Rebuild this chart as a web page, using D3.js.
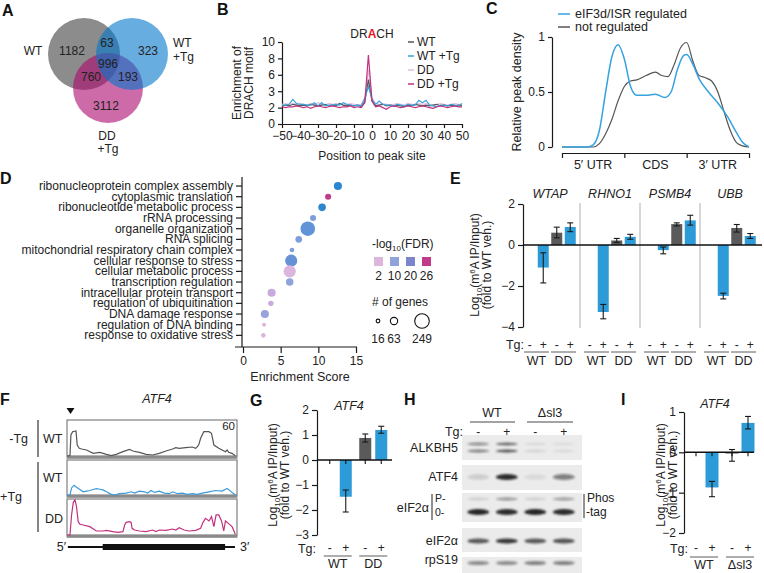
<!DOCTYPE html>
<html><head><meta charset="utf-8">
<script src="https://cdn.jsdelivr.net/npm/d3@7"></script>
<style>
body{margin:0;background:#fff;}
svg{display:block;font-family:"Liberation Sans",Arial,Helvetica,sans-serif;}
.axis path,.axis line{stroke:#1a1a1a;stroke-width:1.2;}
.axis text{font-size:12px;fill:#222;font-family:"Liberation Sans",Arial,sans-serif;}
</style></head><body>
<svg id="fig" width="764" height="573"></svg>
<script>
// ---------------- DATA ----------------
// A: Venn
const vennNames = ["WT", "WT +Tg", "DD +Tg"];
const vennOnly = [1182, 323, 3112];          // WT only, WT+Tg only, DD+Tg only
const vennPairs = [63, 760, 193];            // WT&WT+Tg, WT&DD+Tg, WT+Tg&DD+Tg
const vennAll = 996;

// B: DRACH enrichment
const bPositions = [-50,-48,-46,-44,-42,-40,-38,-36,-34,-32,-30,-28,-26,-24,-22,-20,-18,-16,-14,-12,-10,-8,-6,-4,-2,0,2,4,6,8,10,12,14,16,18,20,22,24,26,28,30,32,34,36,38,40,42,44,46,48,50];
const bWT     = [2.2,2.3,2.2,2.4,2.3,2.2,2.3,2.2,2.4,2.3,2.2,2.3,2.4,2.2,2.3,2.2,2.5,2.3,2.2,2.3,2.2,2.3,2.1,2.7,5.4,2.8,2.2,2.3,2.4,2.2,2.3,2.2,2.3,2.2,2.1,2.3,2.2,2.4,2.3,2.2,2.3,2.2,2.3,2.4,2.2,2.3,2.2,2.3,2.2,2.3,2.2];
const bWTTg   = [2.3,2.3,2.4,3.0,2.5,2.4,2.4,2.3,2.3,2.6,2.2,2.6,2.2,2.3,2.3,2.4,2.3,2.6,2.4,2.3,2.2,2.3,2.2,3.1,4.6,3.0,2.4,2.8,2.4,2.3,2.3,2.2,2.4,2.3,2.2,2.4,2.3,2.3,2.9,2.6,2.9,2.3,2.2,2.1,2.3,2.3,2.2,2.4,2.3,2.2,2.5];
const bDD     = [2.4,2.5,2.4,2.5,2.4,2.5,2.4,2.3,2.5,2.4,2.6,2.4,2.3,2.5,2.4,2.5,2.4,2.3,2.4,2.5,2.4,2.3,2.4,3.2,6.6,3.2,2.5,2.4,2.5,2.4,2.3,2.4,2.5,2.4,2.3,2.5,2.4,2.4,2.5,2.4,2.5,2.4,2.3,2.4,2.5,2.4,2.3,2.4,2.5,2.4,2.4];
const bDDTg   = [2.1,2.0,2.1,2.1,2.2,2.1,2.0,2.1,1.9,2.1,2.2,2.1,2.0,2.1,2.2,2.1,2.0,2.1,2.1,2.2,2.0,2.1,2.0,2.6,8.4,2.8,2.1,2.2,2.0,1.8,2.1,2.2,2.1,2.0,2.1,2.2,2.1,2.0,2.1,2.2,2.1,2.0,1.9,2.1,2.2,2.1,2.0,2.1,2.2,2.1,2.1];
const bYTickValues = [0,2,4,6,8,10];
const bYTickLabels = ["0","2","3","6","8","10"];
const bXTicks = [-50,-40,-30,-20,-10,0,10,20,30,40,50];

// C: metagene density
const cRegions = ["5\u2032 UTR","CDS","3\u2032 UTR"];
const cBlueX = [0,0.4,0.5,0.6,0.7,0.8,0.9,1.0,1.1,1.2,1.35,1.5,1.65,1.75,1.85,1.95,2.0,2.1,2.2,2.35,2.5,2.65,2.8,2.9,3.0];
const cBlueY = [0,0,0.02,0.15,0.5,0.82,0.93,0.8,0.55,0.47,0.47,0.48,0.45,0.5,0.7,0.83,0.84,0.75,0.62,0.5,0.4,0.28,0.13,0.04,0];
const cGrayX = [0,0.5,0.6,0.7,0.8,0.9,1.0,1.1,1.2,1.35,1.5,1.6,1.7,1.8,1.9,2.0,2.1,2.2,2.3,2.4,2.5,2.6,2.7,2.8,2.9,3.0];
const cGrayY = [0,0,0.03,0.12,0.25,0.42,0.55,0.6,0.61,0.65,0.68,0.65,0.64,0.75,0.9,0.95,0.78,0.65,0.63,0.6,0.5,0.32,0.15,0.04,0.01,0];
const cLegend = ["eIF3d/ISR regulated","not regulated"];

// D: GO enrichment
const dTerms = ["ribonucleoprotein complex assembly","cytoplasmic translation","ribonucleotide metabolic process","rRNA processing","organelle organization","RNA splicing","mitochondrial respiratory chain complex","cellular response to stress","cellular metabolic process","transcription regulation","intracellular protein transport","regulation of ubiquitination","DNA damage response","regulation of DNA binding","response to oxidative stress"];
const dScore = [12.6,11.3,10.5,9.3,8.6,7.4,6.5,6.4,6.2,6.2,3.8,3.7,2.9,2.8,2.7];
const dFDR   = [22,26,22,12,16,12,12,17,2,10,5,5,9,2,2];
const dGenes = [77,43,66,43,249,52,25,173,173,66,77,35,77,19,25];
const dFDRLegend = [2,10,20,26];
const dGeneLegend = [16,63,249];
const dXTicks = [0,5,10,15];

// E: m6A IP qPCR
const eGenes = ["WTAP","RHNO1","PSMB4","UBB"];
const eWTplus  = [-1.1,-3.27,-0.25,-2.48];
const eWTplusLo = [-1.85,-3.6,-0.43,-2.63];
const eWTplusHi = [-0.38,-2.9,-0.1,-2.35];
const eDDminus = [0.6,0.22,1.02,0.83];
const eDDminusLo = [0.35,0.13,0.93,0.63];
const eDDminusHi = [0.87,0.32,1.08,1.0];
const eDDplus  = [0.88,0.4,1.2,0.44];
const eDDplusLo = [0.65,0.28,0.97,0.32];
const eDDplusHi = [1.08,0.52,1.45,0.56];
const eYTicks = [2,0,-2,-4];

// F: coverage tracks (position % of transcript, coverage)
const fGrayX = [0,1.75,2.3,3.3,5.3,6.0,7.2,8.6,11.5,15.4,19.3,23.2,26.1,29,32.9,36.8,38.7,42.6,46.5,50.4,54.3,58.2,62.1,64,66,69.8,73.7,75.7,76.7,77.6,78.6,80.5,83.5,85,85.8,86.4,89.3,93.2,94.2,95.1,97.1,99];
const fGrayY = [0,0.5,35,40.5,41.7,18.3,12.8,11.7,10,4.4,6.1,2.8,0.6,2.8,7.2,11.1,8.3,6.1,2.8,1.7,4.4,8.3,11.7,13.9,12.8,13.9,15,12.8,15.6,19.5,29.5,40.5,40.5,37.8,26.7,18.3,12.8,7.2,10,6.1,4.4,0.6];
const fBlueX = [0,1.75,2.7,4.1,5.6,7.6,9.5,11.5,13.4,15.4,17.3,19.3,21.2,23.2,26.1,28,30.9,34.8,37.7,39.7,42.6,45.5,47.5,49.4,51.4,54.3,57.2,60.1,62.1,65,67.9,70.8,73.7,76.7,79.6,83.5,87.4,91.2,94.2,96.1,99];
const fBlueY = [0,0,12.1,16.5,13.2,9.4,5.5,6.6,7.7,9.4,11,9.9,8.8,5.5,1.1,0,2.2,3.3,5.5,3.3,6.6,5.5,3.3,7.7,4.4,6.6,3.3,2.2,5.5,2.2,3.3,1.1,2.2,1.1,3.3,5.5,7.7,6.6,11,6.6,0];
const fPinkX = [0,1.75,2.7,3.7,4.7,5.6,6.6,7.6,9.5,13.4,17.3,21.2,23.2,27,30,32.9,33.9,34.8,36.8,37.7,38.3,39.7,42.6,46.5,50.4,52.3,54.3,58.2,62.1,64,66,68.9,71.8,75.7,78.6,80,81.5,83.5,85,86.4,87.7,89.3,90.9,92.2,93.2,95.1,97.1,99];
const fPinkY = [0,0,33.4,54.5,58.4,47.3,22.2,17.8,16.7,13.9,6.7,6.7,7.8,5.6,4.4,5.6,16.7,21.1,22.2,21.1,11.1,8.3,6.7,5.6,8.3,5.6,8.3,7.8,10,8.3,12.2,8.3,6.7,7.8,11.1,21.1,27.8,23.4,30.6,13.9,33.4,33.4,23.4,6.7,23.4,18.9,13.9,1.1];
const fCDS = [21, 93];

// G: ATF4 m6A
const gGroups = ["WT","DD"];
const gValues = [0,-1.47,0.88,1.2];
const gLo = [null,-2.08,0.72,1.07];
const gHi = [null,-1.2,1.04,1.35];
const gYTicks = [2,1,0,-1,-2,-3];

// H: western blot band intensities (lanes WT-, WT+, dsl3-, dsl3+)
const hRows = ["ALKBH5","ATF4","eIF2\u03b1","eIF2\u03b1","rpS19"];
const hALKBH5up = [0.45,0.6,0.08,0.07];
const hALKBH5lo = [0.5,0.7,0.1,0.08];
const hATF4 = [0.12,0.9,0.07,0.5];
const hPhosP = [0.12,0.4,0.12,0.38];
const hPhos0 = [0.95,0.9,0.95,0.9];
const hEIF2a = [0.7,0.85,0.7,0.72];
const hRPS19 = [0.45,0.45,0.5,0.5];

// I: ATF4 m6A in dsl3
const iGroups = ["WT","\u0394sl3"];
const iValues = [0,-0.87,-0.03,0.73];
const iLo = [null,-1.1,-0.22,0.58];
const iHi = [null,-0.72,0.07,0.89];
const iYTicks = [1,0,-1,-2];

// ---------------- DRAWING ----------------
const svg = d3.select("#fig");
svg.append("rect").attr("width",764).attr("height",573).attr("fill","#fff");
const BLUE = "#2d9bd8", GRAY = "#5a5a5a";

function txt(g, s, x, y, o = {}) {
  return g.append("text").attr("x", x).attr("y", y)
    .attr("font-size", o.size || 12).attr("fill", o.fill || "#222")
    .attr("text-anchor", o.anchor || "start")
    .attr("font-weight", o.weight || null)
    .attr("font-style", o.italic ? "italic" : null).text(s);
}
function letter(s, x, y) { txt(svg, s, x, y, {size: 16, weight: "bold", fill: "#111"}); }
function logLabel(x1, x2, cy) {
  const t = svg.append("text").attr("transform", `translate(${x1},${cy}) rotate(-90)`)
    .attr("text-anchor", "middle").attr("font-size", 12).attr("fill", "#222");
  t.append("tspan").text("Log");
  t.append("tspan").attr("dy", 3).attr("font-size", 8).text("10");
  t.append("tspan").attr("dy", -3).text("(m");
  t.append("tspan").attr("dy", -4).attr("font-size", 8).text("6");
  t.append("tspan").attr("dy", 4).text("A IP/Input)");
  svg.append("text").attr("transform", `translate(${x2},${cy}) rotate(-90)`)
    .attr("text-anchor", "middle").attr("font-size", 12).attr("fill", "#222").text("(fold to WT veh.)");
}

// ---- A ----
letter("A", 2, 16);
const vennCircles = [{cx:84,cy:54,r:36,c:"#8c8c8c",o:1},{cx:108,cy:88,r:35,c:"#ac076e",o:0.6},{cx:132,cy:54,r:36,c:"#0376cb",o:0.6}];
svg.append("g").selectAll("circle").data(vennCircles).join("circle")
  .attr("cx", d => d.cx).attr("cy", d => d.cy).attr("r", d => d.r)
  .attr("fill", d => d.c).attr("fill-opacity", d => d.o);
const gA = svg.append("g");
txt(gA, vennNames[0], 33, 55, {anchor:"middle"});
txt(gA, "WT", 173, 47); txt(gA, "+Tg", 173, 61);
txt(gA, "DD", 107, 140, {anchor:"middle"}); txt(gA, "+Tg", 108, 153, {anchor:"middle"});
txt(gA, vennOnly[0], 72, 55, {anchor:"middle"});
txt(gA, vennOnly[1], 148, 55, {anchor:"middle"});
txt(gA, vennOnly[2], 106, 110, {anchor:"middle"});
txt(gA, vennPairs[0], 107, 47, {anchor:"middle"});
txt(gA, vennPairs[1], 91, 81, {anchor:"middle"});
txt(gA, vennPairs[2], 128, 81, {anchor:"middle"});
txt(gA, vennAll, 108, 68, {anchor:"middle"});

// ---- B ----
letter("B", 217, 15);
const bx = d3.scaleLinear().domain([-50,50]).range([282,462]);
const by = d3.scaleLinear().domain([0,10]).range([124,42]);
svg.append("g").attr("class","axis").attr("transform","translate(0,124)")
  .call(d3.axisBottom(bx).tickValues(bXTicks).tickSize(4).tickSizeOuter(0).tickFormat(d3.format("d")))
  .selectAll("text").attr("font-size", 11.5);
svg.append("g").attr("class","axis").attr("transform","translate(282,0)")
  .call(d3.axisLeft(by).tickValues(bYTickValues).tickSize(4).tickSizeOuter(0).tickFormat((d,i) => bYTickLabels[i]))
  .selectAll("text").attr("font-size", 12);
const bSeries = [{v:bDD,c:"#e6bedb",n:"DD"},{v:bWT,c:"#555555",n:"WT"},{v:bWTTg,c:"#3aa2dc",n:"WT +Tg"},{v:bDDTg,c:"#c2317f",n:"DD +Tg"}];
const bLine = d3.line().x((d,i) => bx(bPositions[i])).y(d => by(d));
svg.append("g").selectAll("path").data(bSeries).join("path")
  .attr("d", d => bLine(d.v)).attr("fill","none").attr("stroke", d => d.c).attr("stroke-width",1.2);
const bLegOrder = [bSeries[1], bSeries[2], bSeries[0], bSeries[3]];
bLegOrder.forEach((s,i) => {
  const y = 46 + i*14;
  svg.append("line").attr("x1",408).attr("x2",414).attr("y1",y-4).attr("y2",y-4).attr("stroke",s.c).attr("stroke-width",1.5);
  txt(svg, s.n, 417, y, {size:12});
});
const drach = svg.append("text").attr("x",372).attr("y",38).attr("text-anchor","middle").attr("font-size",12).attr("fill","#222");
drach.append("tspan").text("DR"); drach.append("tspan").attr("fill","#e8141c").attr("font-weight","bold").text("A"); drach.append("tspan").text("CH");
txt(svg, "Position to peak site", 372, 160, {anchor:"middle"});
svg.append("text").attr("transform","translate(241,83) rotate(-90)").attr("text-anchor","middle").attr("font-size",12).attr("fill","#222").text("Enrichment of");
svg.append("text").attr("transform","translate(253,83) rotate(-90)").attr("text-anchor","middle").attr("font-size",12).attr("fill","#222").text("DRACH motif");

// ---- C ----
letter("C", 486, 14);
const cx = d3.scaleLinear().domain([0,3]).range([562,749]);
const cy = d3.scaleLinear().domain([0,1]).range([147,37]);
svg.append("g").attr("class","axis").attr("transform","translate(552,0)")
  .call(d3.axisLeft(cy).tickValues([0,0.5,1]).tickSize(4).tickSizeOuter(0).tickFormat(d3.format("")));
svg.append("g").attr("class","axis").attr("transform","translate(0,153)")
  .call(d3.axisBottom(cx).tickValues([0,1,2,3]).tickSize(5).tickSizeOuter(0).tickFormat(""));
cRegions.forEach((r,i) => txt(svg, r, cx(i+0.5), 169, {anchor:"middle", size:12.5}));
const cLine = d3.line().curve(d3.curveMonotoneX);
svg.append("path").attr("d", cLine(cGrayX.map((x,i)=>[cx(x),cy(cGrayY[i])]))).attr("fill","none").attr("stroke","#555").attr("stroke-width",1.2);
svg.append("path").attr("d", cLine(cBlueX.map((x,i)=>[cx(x),cy(cBlueY[i])]))).attr("fill","none").attr("stroke","#35a3e0").attr("stroke-width",1.5);
[["#35a3e0",cLegend[0]],["#555",cLegend[1]]].forEach((d,i) => {
  const y = 18 + i*13;
  svg.append("line").attr("x1",558).attr("x2",570).attr("y1",y-4).attr("y2",y-4).attr("stroke",d[0]).attr("stroke-width",1.5);
  txt(svg, d[1], 575, y, {size:12.5});
});
svg.append("text").attr("transform","translate(521,92) rotate(-90)").attr("text-anchor","middle").attr("font-size",12.5).attr("fill","#222").text("Relative peak density");

// ---- D ----
letter("D", 0, 184);
const dy = d3.scaleBand().domain(dTerms).range([180.7,340.7]);
const dx = d3.scaleLinear().domain([0,15]).range([243,356]);
const dColor = d3.scaleLinear().domain([2,5,10,16,20,22,26])
  .range(["#ddb6de","#c9aadc","#8ea3dc","#5f95d8","#7a85cc","#2b86cf","#c23a8a"]);
const dR = d3.scaleSqrt().domain([0,249]).range([0,7.3]);
const dyAxis = svg.append("g").attr("class","axis").attr("transform","translate(242,0)")
  .call(d3.axisLeft(dy).tickSize(6).tickSizeOuter(0).tickPadding(3));
dyAxis.selectAll("text").attr("font-size",12.6);
dyAxis.select(".domain").attr("d","M0,177V347");
const dxAxis = svg.append("g").attr("class","axis").attr("transform","translate(0,347)")
  .call(d3.axisBottom(dx).tickValues(dXTicks).tickSize(6).tickSizeOuter(0));
dxAxis.select(".domain").attr("d","M235,0H357");
dxAxis.selectAll("text").attr("font-size",12.5);
const dPts = dTerms.map((t,i) => ({t, s:dScore[i], f:dFDR[i], n:dGenes[i]}));
svg.append("g").selectAll("circle").data(dPts).join("circle")
  .attr("cx", d => dx(d.s)).attr("cy", d => dy(d.t) + dy.bandwidth()/2)
  .attr("r", d => dR(d.n)).attr("fill", d => dColor(d.f));
txt(svg, "Enrichment Score", 300, 381, {anchor:"middle", size:12.5});
const fl = svg.append("text").attr("x",372).attr("y",248).attr("font-size",12).attr("fill","#222");
fl.append("tspan").text("-log"); fl.append("tspan").attr("dy",3).attr("font-size",8).text("10"); fl.append("tspan").attr("dy",-3).text("(FDR)");
dFDRLegend.forEach((v,i) => {
  const x = 378.5 + i*16;
  svg.append("rect").attr("x",x-4.5).attr("y",257).attr("width",9).attr("height",9).attr("fill",dColor(v));
  txt(svg, v, x, 280, {anchor:"middle"});
});
txt(svg, "# of genes", 372, 306, {size:12});
const gLegX = [378, 394, 422];
dGeneLegend.forEach((v,i) => {
  svg.append("circle").attr("cx",gLegX[i]).attr("cy",321).attr("r",dR(v)).attr("fill","none").attr("stroke","#111").attr("stroke-width",1.1);
  txt(svg, v, gLegX[i], 343, {anchor:"middle"});
});

// ---- E ----
letter("E", 450, 184);
const eG = d3.scaleBand().domain(eGenes).range([520,760]);
const eC = d3.scaleBand().domain(["WT-","WT+","DD-","DD+"]).range([3,57]);
const ey = d3.scaleLinear().domain([-4,2]).range([327,204]);
svg.append("g").attr("class","axis").attr("transform","translate(523,0)")
  .call(d3.axisLeft(ey).tickValues(eYTicks).tickSize(5).tickSizeOuter(0).tickFormat(d3.format("d")))
  .selectAll("text").attr("font-size",12.5);
eGenes.slice(1).forEach(g => svg.append("line").attr("x1",eG(g)).attr("x2",eG(g)).attr("y1",203).attr("y2",328).attr("stroke","#bdbdbd").attr("stroke-width",1.2));
const eBars = [];
eGenes.forEach((g,i) => {
  eBars.push({g, c:"WT+", v:eWTplus[i], lo:eWTplusLo[i], hi:eWTplusHi[i], col:BLUE});
  eBars.push({g, c:"DD-", v:eDDminus[i], lo:eDDminusLo[i], hi:eDDminusHi[i], col:GRAY});
  eBars.push({g, c:"DD+", v:eDDplus[i], lo:eDDplusLo[i], hi:eDDplusHi[i], col:BLUE});
});
const bw = 11;
const eXc = d => eG(d.g) + eC(d.c) + eC.bandwidth()/2;
svg.append("g").selectAll("rect").data(eBars).join("rect")
  .attr("x", d => eXc(d) - bw/2).attr("width", bw)
  .attr("y", d => ey(Math.max(0,d.v))).attr("height", d => Math.abs(ey(d.v)-ey(0)))
  .attr("fill", d => d.col);
function errBars(data, xf, yS) {
  const g = svg.append("g").attr("stroke","#1a1a1a").attr("stroke-width",1.1);
  data.filter(d => d.lo != null).forEach(d => {
    const x = xf(d);
    g.append("line").attr("x1",x).attr("x2",x).attr("y1",yS(d.lo)).attr("y2",yS(d.hi));
    g.append("line").attr("x1",x-3).attr("x2",x+3).attr("y1",yS(d.lo)).attr("y2",yS(d.lo));
    g.append("line").attr("x1",x-3).attr("x2",x+3).attr("y1",yS(d.hi)).attr("y2",yS(d.hi));
  });
}
errBars(eBars, eXc, ey);
svg.append("line").attr("x1",523).attr("x2",762).attr("y1",ey(0)).attr("y2",ey(0)).attr("stroke","#111").attr("stroke-width",1.5);
eGenes.forEach(g => {
  txt(svg, g, eG(g)+eG.bandwidth()/2, 198, {anchor:"middle", italic:true, size:12.5});
  ["WT-","WT+","DD-","DD+"].forEach(c => txt(svg, c.endsWith("+")?"+":"-", eG(g)+eC(c)+eC.bandwidth()/2, 349, {anchor:"middle"}));
  [["WT","WT-","WT+"],["DD","DD-","DD+"]].forEach(p => {
    const x1 = eG(g)+eC(p[1])+1, x2 = eG(g)+eC(p[2])+eC.bandwidth()-1;
    svg.append("line").attr("x1",x1).attr("x2",x2).attr("y1",352).attr("y2",352).attr("stroke","#333").attr("stroke-width",0.8);
    txt(svg, p[0], (x1+x2)/2, 365, {anchor:"middle", size:12.5});
  });
});
txt(svg, "Tg:", 524, 349, {anchor:"end", size:12.5});
logLabel(479, 491, 265);

// ---- F ----
letter("F", 0, 405);
txt(svg, "ATF4", 157, 403, {anchor:"middle", italic:true, size:12.5});
svg.append("path").attr("d","M66.5,408L74.5,408L70.5,414Z").attr("fill","#111");
const fx = d3.scaleLinear().domain([0,100]).range([67,237]);
const fTracks = [{x:fGrayX,y:fGrayY,c:"#555",top:420,base:456},{x:fBlueX,y:fBlueY,c:"#3a9ad9",top:460,base:495},{x:fPinkX,y:fPinkY,c:"#c2317f",top:499,base:535}];
fTracks.forEach(t => {
  const sy = d3.scaleLinear().domain([0,60]).range([t.base, t.top]);
  svg.append("rect").attr("x",67).attr("y",t.top).attr("width",170).attr("height",t.base-t.top).attr("fill","none").attr("stroke","#666").attr("stroke-width",1);
  svg.append("rect").attr("x",66.5).attr("y",t.base).attr("width",171).attr("height",2.8).attr("fill","#8a8a8a");
  svg.append("path").attr("d", d3.line()(t.x.map((x,i)=>[fx(x), sy(t.y[i])]))).attr("fill","none").attr("stroke",t.c).attr("stroke-width",1.2);
});
txt(svg, "60", 235, 430, {anchor:"end", size:11.5});
svg.append("line").attr("x1",38).attr("x2",38).attr("y1",420).attr("y2",457).attr("stroke","#333").attr("stroke-width",1.2);
svg.append("line").attr("x1",38).attr("x2",38).attr("y1",462).attr("y2",532).attr("stroke","#333").attr("stroke-width",1.2);
txt(svg, "-Tg", 28, 443, {anchor:"end", size:12.5});
txt(svg, "+Tg", 22, 501, {anchor:"end", size:12.5});
txt(svg, "WT", 43, 443, {size:12.5}); txt(svg, "WT", 43, 482, {size:12.5}); txt(svg, "DD", 45, 523, {size:12.5});
svg.append("line").attr("x1",fx(0.5)).attr("x2",fx(98.8)).attr("y1",547).attr("y2",547).attr("stroke","#111").attr("stroke-width",2);
svg.append("rect").attr("x",fx(fCDS[0])).attr("width",fx(fCDS[1])-fx(fCDS[0])).attr("y",544).attr("height",6).attr("fill","#111");
txt(svg, "5\u2032", 66, 551, {anchor:"end", size:12.5});
txt(svg, "3\u2032", 240, 551, {size:12.5});

// ---- G ----
letter("G", 250, 406);
txt(svg, "ATF4", 349, 410, {anchor:"middle", italic:true, size:12.5});
const gy = d3.scaleLinear().domain([-3,2]).range([535,410]);
const gGrp = d3.scaleBand().domain(gGroups).range([320,391]);
const gCond = ["-","+","-","+"];
const gBars = gValues.map((v,i) => ({i, v, lo:gLo[i], hi:gHi[i], grp:gGroups[Math.floor(i/2)], col: i===2?GRAY:BLUE}));
const gXc = d => gGrp(d.grp) + gGrp.bandwidth()/2 + (d.i%2===0 ? -8 : 8);
svg.append("g").attr("class","axis").attr("transform","translate(317,0)")
  .call(d3.axisLeft(gy).tickValues(gYTicks).tickSize(5).tickSizeOuter(0).tickFormat(d3.format("d")))
  .selectAll("text").attr("font-size",12.5);
svg.append("g").selectAll("rect").data(gBars.filter(d=>d.v!==0)).join("rect")
  .attr("x", d => gXc(d)-6).attr("width",12)
  .attr("y", d => gy(Math.max(0,d.v))).attr("height", d => Math.abs(gy(d.v)-gy(0))).attr("fill", d => d.col);
errBars(gBars, gXc, gy);
svg.append("line").attr("x1",317).attr("x2",392).attr("y1",gy(0)).attr("y2",gy(0)).attr("stroke","#111").attr("stroke-width",1.5);
gBars.forEach(d => svg.append("line").attr("x1",gXc(d)).attr("x2",gXc(d)).attr("y1",gy(0)).attr("y2",gy(0)+4).attr("stroke","#111").attr("stroke-width",1.1));
txt(svg, "Tg:", 316, 553, {anchor:"end", size:12.5});
gBars.forEach(d => txt(svg, gCond[d.i], gXc(d), 552, {anchor:"middle"}));
gGroups.forEach(g => {
  const x1 = gGrp(g)+gGrp.bandwidth()/2-14, x2 = gGrp(g)+gGrp.bandwidth()/2+14;
  svg.append("line").attr("x1",x1).attr("x2",x2).attr("y1",556).attr("y2",556).attr("stroke","#333").attr("stroke-width",0.8);
  txt(svg, g, (x1+x2)/2, 568, {anchor:"middle", size:12.5});
});
logLabel(277, 289, 475);

// ---- H ----
letter("H", 404, 405);
const hLanes = d3.scaleBand().domain([0,1,2,3]).range([464,578]);
const hx = i => hLanes(i) + hLanes.bandwidth()/2;
const defs = svg.append("defs");
defs.append("filter").attr("id","blur").attr("x","-50%").attr("y","-100%").attr("width","200%").attr("height","300%")
  .append("feGaussianBlur").attr("stdDeviation","1.3 1.1");
const hBoxes = [[435,460],[465,490],[493,522],[528,552],[557,580]];
hBoxes.forEach(b => svg.append("rect").attr("x",462).attr("y",b[0]).attr("width",120).attr("height",b[1]-b[0]).attr("fill","#ebebeb"));
const hBandSets = [{v:hALKBH5up,y:444,h:3},{v:hALKBH5lo,y:451,h:3},{v:hATF4,y:477,h:6},{v:hPhosP,y:499,h:3},{v:hPhos0,y:512,h:6},{v:hEIF2a,y:541,h:5},{v:hRPS19,y:563,h:4}];
const bandG = svg.append("g").attr("filter","url(#blur)");
hBandSets.forEach(s => s.v.forEach((v,i) => {
  bandG.append("ellipse").attr("cx",hx(i)).attr("cy",s.y).attr("rx",11).attr("ry",s.h/2)
    .attr("fill","#1a1a1a").attr("fill-opacity",v);
}));
txt(svg, "WT", 492, 417, {anchor:"middle", size:12.5});
txt(svg, "\u0394sl3", 550, 417, {anchor:"middle", size:12.5});
svg.append("line").attr("x1",470).attr("x2",515).attr("y1",422).attr("y2",422).attr("stroke","#333").attr("stroke-width",0.9);
svg.append("line").attr("x1",527).attr("x2",573).attr("y1",422).attr("y2",422).attr("stroke","#333").attr("stroke-width",0.9);
txt(svg, "Tg:", 463, 436, {anchor:"end", size:12.5});
["-","+","-","+"].forEach((s,i) => txt(svg, s, hx(i), 436, {anchor:"middle"}));
txt(svg, hRows[0], 458, 452, {anchor:"end", size:12.5});
txt(svg, hRows[1], 458, 481, {anchor:"end", size:12.5});
txt(svg, hRows[2], 429, 512, {anchor:"end", size:12.5});
txt(svg, hRows[3], 458, 545, {anchor:"end", size:12.5});
txt(svg, hRows[4], 458, 564, {anchor:"end", size:12.5});
svg.append("line").attr("x1",432).attr("x2",432).attr("y1",494).attr("y2",520).attr("stroke","#222").attr("stroke-width",1);
txt(svg, "P-", 435, 502, {size:10.5}); txt(svg, "0-", 435, 516, {size:10.5});
svg.append("line").attr("x1",584).attr("x2",584).attr("y1",494).attr("y2",518).attr("stroke","#222").attr("stroke-width",1);
txt(svg, "Phos", 587, 502, {size:12}); txt(svg, "-tag", 586, 516, {size:12});

// ---- I ----
letter("I", 621, 405);
txt(svg, "ATF4", 715, 408, {anchor:"middle", italic:true, size:12.5});
const iy = d3.scaleLinear().domain([-2,1]).range([533,412]);
const iGrp = d3.scaleBand().domain(iGroups).range([686,758]);
const iBars = iValues.map((v,i) => ({i, v, lo:iLo[i], hi:iHi[i], grp:iGroups[Math.floor(i/2)], col: i===2?GRAY:BLUE}));
const iXc = d => iGrp(d.grp) + iGrp.bandwidth()/2 + (d.i%2===0 ? -8 : 8);
svg.append("g").attr("class","axis").attr("transform","translate(684,0)")
  .call(d3.axisLeft(iy).tickValues(iYTicks).tickSize(5).tickSizeOuter(0).tickFormat(d3.format("d")))
  .selectAll("text").attr("font-size",12.5);
svg.append("g").selectAll("rect").data(iBars.filter(d=>d.v!==0)).join("rect")
  .attr("x", d => iXc(d)-6.5).attr("width",13)
  .attr("y", d => iy(Math.max(0,d.v))).attr("height", d => Math.abs(iy(d.v)-iy(0))).attr("fill", d => d.col);
errBars(iBars, iXc, iy);
svg.append("line").attr("x1",684).attr("x2",754).attr("y1",iy(0)).attr("y2",iy(0)).attr("stroke","#111").attr("stroke-width",1.5);
iBars.forEach(d => svg.append("line").attr("x1",iXc(d)).attr("x2",iXc(d)).attr("y1",iy(0)).attr("y2",iy(0)+4).attr("stroke","#111").attr("stroke-width",1.1));
txt(svg, "Tg:", 688, 553, {anchor:"end", size:12.5});
iBars.forEach(d => txt(svg, d.i%2===0?"-":"+", iXc(d), 552, {anchor:"middle"}));
iGroups.forEach(g => {
  const x1 = iGrp(g)+iGrp.bandwidth()/2-14, x2 = iGrp(g)+iGrp.bandwidth()/2+14;
  svg.append("line").attr("x1",x1).attr("x2",x2).attr("y1",557).attr("y2",557).attr("stroke","#333").attr("stroke-width",0.8);
  txt(svg, g, (x1+x2)/2, 569, {anchor:"middle", size:12.5});
});
logLabel(665, 677, 475);
</script></body></html>
